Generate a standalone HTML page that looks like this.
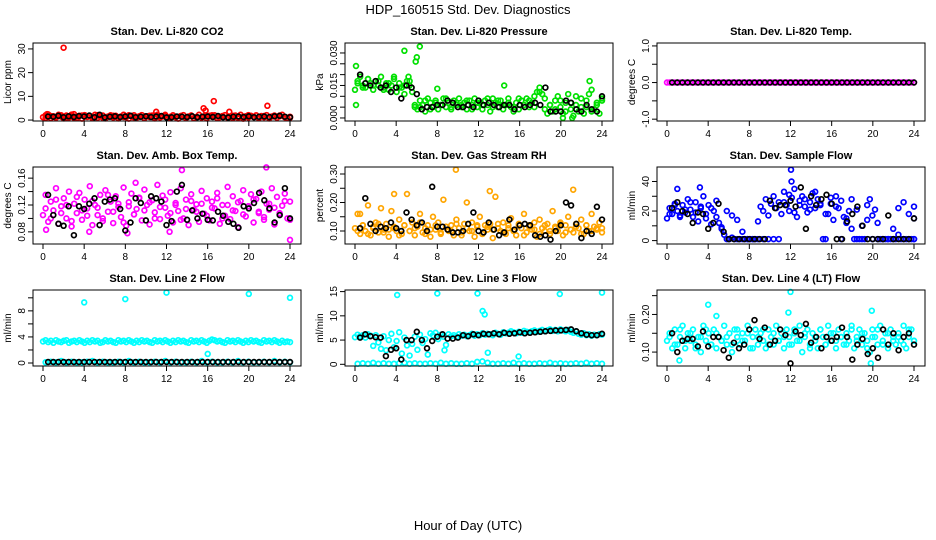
<!DOCTYPE html>
<html><head><meta charset="utf-8">
<style>
html,body{margin:0;padding:0;background:#fff;}
svg{display:block;font-family:"Liberation Sans",sans-serif;}
</style></head>
<body>
<svg id="chart" width="936" height="540" viewBox="0 0 936 540" xmlns="http://www.w3.org/2000/svg">
<text x="468" y="14" text-anchor="middle" font-size="13">HDP_160515  Std. Dev. Diagnostics</text>
<text x="468" y="530" text-anchor="middle" font-size="13">Hour of Day (UTC)</text>
</svg>
<script>
// ---------- data ----------
const xTicks = [0,4,8,12,16,20,24];
const titles = ["Stan. Dev. Li-820 CO2","Stan. Dev. Li-820 Pressure","Stan. Dev. Li-820 Temp.","Stan. Dev. Amb. Box Temp.","Stan. Dev. Gas Stream RH","Stan. Dev. Sample Flow","Stan. Dev. Line 2 Flow","Stan. Dev. Line 3 Flow","Stan. Dev. Line 4 (LT) Flow"];
const yUnits = ["Licor ppm","kPa","degrees C","degrees C","percent","ml/min","ml/min","ml/min","ml/min"];
const yTicks = [[0,10,20,30],[0,0.005,0.01,0.015,0.02,0.025,0.03],[-1,-0.5,0,0.5,1],[0.08,0.1,0.12,0.14,0.16],[0.1,0.15,0.2,0.25,0.3],[0,10,20,30,40],[0,2,4,6,8,10],[0,5,10,15],[0.1,0.15,0.2,0.25]];
const yTickLabels = [["0","10","20","30"],["0.000","","","0.015","","","0.030"],["-1.0","","0.0","","1.0"],["0.08","","0.12","","0.16"],["0.10","","0.20","","0.30"],["0","","20","","40"],["0","","4","","8",""],["0","5","10","15"],["0.10","","0.20",""]];

const co2 = [1.2,2.0,2.4,0.8,1.6,1.0,2.2,1.4,0.7,1.9,1.1,2.3,0.9,1.5,1.8,0.6,2.1,1.3,1.7,0.8,2.2,1.0,1.6,1.9,0.7,1.4,2.0,1.1,1.8,0.9,1.5,2.2,1.2,0.6,1.7,2.0,1.0,1.4,2.1,0.8,1.6,1.3,1.9,0.7,2.2,1.1,1.5,1.8,0.9,1.4,2.0,1.2,0.6,1.7,2.1,1.0,1.5,1.9,0.8,1.3,2.2,1.1,1.6,0.7,1.8,1.4,2.0,0.9,1.2,1.7,2.1,1.0,1.5,0.8,1.9,1.3,2.2,0.6,1.6,1.1,1.8,1.4,2.0,0.9,1.7,1.2,2.1,0.7,1.5,1.9,1.0,1.6,2.2,1.3,0.8,1.4];
const co2B = [0.9,1.7,1.3,2.0,1.1,1.6,0.8,1.9,1.4,1.2,2.1,1.0,1.5,1.8,0.7,1.3,2.0,1.1,1.6,0.9,1.8,1.2,1.5,2.2,1.0,1.4,1.7,0.8,1.9,1.3,1.1,1.6,2.0,0.9,1.5,1.2,1.8,1.0,1.4,2.1,1.3,0.8,1.7,1.1,1.6,1.9,1.2,1.0];
const co2Black = [1.5,1.4,1.8,1.2,1.6,1.3,1.7,1.5,1.9,1.2,2.2,1.1,1.4,1.6,1.3,1.5,1.8,1.2,1.4,1.6,1.3,1.5,1.7,1.1,1.2,1.5,1.4,1.3,1.6,1.2,1.4,1.5,1.3,1.7,1.2,1.1,1.4,1.5,1.3,1.6,1.2,1.4,1.5,1.3,1.6,1.8,1.4,1.2];
const co2OutX = [2.0,11,15.6,15.8,16.6,18.1,21.8,0.4,3];
const co2OutY = [30.5,3.5,5,4,8,3.5,6,2.5,2.5];

const pres = [0.013,0.017,0.019,0.015,0.014,0.018,0.016,0.013,0.017,0.015,0.019,0.014,0.016,0.013,0.015,0.018,0.012,0.016,0.014,0.011,0.017,0.015,0.012,0.005,0.004,0.008,0.006,0.003,0.009,0.007,0.005,0.008,0.004,0.006,0.009,0.005,0.007,0.004,0.008,0.006,0.009,0.005,0.007,0.004,0.008,0.006,0.009,0.005,0.007,0.004,0.008,0.006,0.003,0.009,0.007,0.005,0.008,0.004,0.006,0.009,0.005,0.003,0.007,0.004,0.008,0.006,0.009,0.005,0.007,0.010,0.012,0.014,0.011,0.004,0.002,0.006,0.003,0.008,0.010,0.005,0.002,0.007,0.011,0.004,0.001,0.006,0.003,0.009,0.002,0.005,0.011,0.013,0.004,0.007,0.002,0.009];
const presB = [0.016,0.014,0.018,0.015,0.017,0.013,0.016,0.019,0.014,0.015,0.017,0.006,0.005,0.008,0.004,0.007,0.006,0.009,0.005,0.007,0.006,0.008,0.004,0.007,0.006,0.009,0.005,0.008,0.006,0.007,0.005,0.009,0.006,0.008,0.005,0.012,0.009,0.006,0.004,0.008,0.003,0.007,0.010,0.005,0.008,0.003,0.006,0.008];
const presBlack = [0.020,0.016,0.015,0.017,0.014,0.015,0.012,0.014,0.009,0.015,0.014,0.011,0.004,0.005,0.005,0.006,0.006,0.008,0.007,0.005,0.005,0.006,0.005,0.008,0.006,0.007,0.006,0.005,0.006,0.006,0.004,0.006,0.005,0.006,0.007,0.006,0.014,0.003,0.003,0.003,0.008,0.007,0.004,0.003,0.006,0.004,0.003,0.010];
const presOutX = [0.1,0.1,4.8,6.3,5.9,5.2,8,14.5,20.2,22.8,21.1,6.0];
const presOutY = [0.024,0.006,0.031,0.033,0.026,0.019,0.0135,0.015,0.0,0.017,0.0,0.028];

const tempC = [0,0,0,0,0,0,0,0,0,0,0,0,0,0,0,0,0,0,0,0,0,0,0,0,0,0,0,0,0,0,0,0,0,0,0,0,0,0,0,0,0,0,0,0,0,0,0,0,0,0,0,0,0,0,0,0,0,0,0,0,0,0,0,0,0,0,0,0,0,0,0,0,0,0,0,0,0,0,0,0,0,0,0,0,0,0,0,0,0,0,0,0,0,0,0,0];
const tempBlack = [0,0,0,0,0,0,0,0,0,0,0,0,0,0,0,0,0,0,0,0,0,0,0,0,0,0,0,0,0,0,0,0,0,0,0,0,0,0,0,0,0,0,0,0,0,0,0,0];

const amb = [0.105,0.135,0.095,0.125,0.112,0.145,0.092,0.118,0.13,0.1,0.14,0.088,0.122,0.108,0.138,0.098,0.128,0.115,0.148,0.09,0.12,0.105,0.135,0.096,0.142,0.11,0.125,0.093,0.133,0.117,0.102,0.146,0.089,0.124,0.137,0.106,0.114,0.131,0.097,0.143,0.12,0.091,0.127,0.109,0.15,0.099,0.134,0.116,0.104,0.139,0.094,0.123,0.111,0.145,0.1,0.128,0.09,0.136,0.113,0.121,0.095,0.141,0.107,0.13,0.097,0.125,0.115,0.138,0.092,0.12,0.104,0.147,0.099,0.133,0.111,0.087,0.126,0.142,0.103,0.118,0.136,0.094,0.129,0.108,0.14,0.098,0.122,0.113,0.145,0.091,0.132,0.106,0.119,0.137,0.1,0.125];
const ambB = [0.115,0.1,0.128,0.108,0.12,0.096,0.132,0.112,0.104,0.126,0.116,0.1,0.135,0.11,0.122,0.094,0.118,0.106,0.13,0.112,0.124,0.1,0.117,0.128,0.108,0.12,0.098,0.114,0.126,0.11,0.122,0.104,0.116,0.13,0.1,0.12,0.112,0.124,0.106,0.118,0.128,0.11,0.102,0.122,0.116,0.108,0.126,0.098];
const ambBlack = [0.135,0.105,0.092,0.089,0.118,0.075,0.118,0.114,0.122,0.13,0.09,0.125,0.128,0.13,0.114,0.082,0.094,0.13,0.123,0.097,0.133,0.13,0.125,0.09,0.096,0.14,0.15,0.098,0.112,0.1,0.107,0.098,0.097,0.11,0.104,0.095,0.092,0.086,0.118,0.115,0.123,0.138,0.127,0.115,0.094,0.105,0.145,0.1];
const ambOutX = [0.3,13.5,21.7,24,9,4.5,12.3,8.2];
const ambOutY = [0.083,0.172,0.176,0.068,0.153,0.08,0.08,0.078];

const rh = [0.11,0.16,0.09,0.12,0.1,0.19,0.085,0.115,0.13,0.095,0.18,0.105,0.125,0.08,0.17,0.11,0.1,0.14,0.09,0.12,0.23,0.1,0.13,0.085,0.115,0.16,0.095,0.11,0.12,0.08,0.15,0.105,0.13,0.09,0.21,0.115,0.1,0.12,0.085,0.14,0.11,0.095,0.125,0.2,0.1,0.13,0.08,0.115,0.15,0.09,0.12,0.105,0.125,0.075,0.22,0.11,0.1,0.13,0.09,0.12,0.145,0.1,0.085,0.125,0.11,0.16,0.095,0.12,0.105,0.13,0.08,0.14,0.11,0.1,0.125,0.09,0.17,0.115,0.1,0.13,0.085,0.12,0.15,0.105,0.095,0.125,0.11,0.14,0.09,0.12,0.1,0.16,0.115,0.105,0.13,0.11];
const rhB = [0.1,0.12,0.09,0.11,0.125,0.095,0.105,0.115,0.085,0.12,0.1,0.11,0.13,0.09,0.105,0.12,0.095,0.115,0.1,0.125,0.085,0.11,0.1,0.12,0.09,0.115,0.105,0.125,0.095,0.11,0.1,0.12,0.085,0.115,0.105,0.09,0.12,0.1,0.11,0.125,0.095,0.105,0.115,0.09,0.12,0.1,0.11,0.095];
const rhBlack = [0.11,0.215,0.125,0.1,0.115,0.11,0.13,0.11,0.1,0.165,0.14,0.12,0.13,0.1,0.255,0.115,0.115,0.105,0.095,0.095,0.1,0.125,0.165,0.1,0.095,0.13,0.105,0.085,0.095,0.14,0.105,0.12,0.125,0.12,0.085,0.08,0.085,0.07,0.1,0.12,0.2,0.19,0.125,0.075,0.1,0.09,0.185,0.14];
const rhOutX = [9.8,13.1,21.2,3.8,0.5];
const rhOutY = [0.315,0.24,0.245,0.23,0.16];

const flow = [15,22,18,25,20,17,24,19,28,21,16,26,13,22,30,18,24,11,20,16,12,8,4,1,1,2,1,1,1,1,1,1,1,1,1,13,23,20,28,17,25,30,22,26,18,33,24,20,29,35,16,27,30,23,19,26,32,22,28,24,1,1,18,25,14,30,22,27,16,12,20,8,1,1,1,1,1,24,28,17,21,12,1,1,1,1,1,8,1,4,1,1,1,1,1,1];
const flowB = [18,24,16,21,26,19,23,15,22,27,9,20,17,14,6,1,1,1,1,1,1,1,26,31,19,24,28,21,33,25,18,29,23,1,15,28,21,10,14,1,1,1,1,1,22,26,18,1];
const flowBlack = [22,26,20,18,12,19,18,8,12,25,6,1,1,1,1,1,1,1,1,27,22,24,24,27,23,36,8,30,24,28,31,25,1,1,13,18,23,10,1,1,1,1,17,1,1,1,1,15];
const flowOutX = [12.05,12.1,1,3.2,24,24];
const flowOutY = [48,40,35,36,23,15];

const l2 = [3.3,3.5,3.2,3.4,3.1,3.5,3.3,3.2,3.4,3.5,3.1,3.3,3.4,3.2,3.5,3.3,3.1,3.4,3.2,3.5,3.3,3.4,3.1,3.2,3.5,3.3,3.4,3.2,3.1,3.5,3.3,3.4,3.2,3.5,3.3,3.1,3.4,3.2,3.5,3.3,3.4,3.2,3.1,3.5,3.3,3.4,3.2,3.5,3.3,3.1,3.4,3.2,3.5,3.3,3.4,3.2,3.1,3.5,3.3,3.4,3.2,3.5,3.3,3.1,3.4,3.6,3.5,3.3,3.4,3.2,3.1,3.5,3.3,3.4,3.2,3.5,3.3,3.1,3.4,3.2,3.5,3.3,3.4,3.2,3.1,3.5,3.3,3.4,3.2,3.5,3.3,3.1,3.4,3.2,3.3,3.2];
const l2Low = [0.1,0.2,0.1,0.3,0.1,0.2,0.1,0.1,0.2,0.3,0.1,0.2,0.1,0.1,0.2,0.1,0.3,0.1,0.2,0.1,0.1,0.2,0.1,0.3,0.1,0.2,0.1,0.1,0.2,0.1,0.3,0.1,0.2,0.1,0.1,0.2,0.1,0.3,0.1,0.2,0.1,0.1,0.2,0.1,0.3,0.1,0.2,0.1];
const l2Black = [0.15,0.15,0.15,0.15,0.15,0.15,0.15,0.15,0.15,0.15,0.15,0.15,0.15,0.15,0.15,0.15,0.15,0.15,0.15,0.15,0.15,0.15,0.15,0.15,0.15,0.15,0.15,0.15,0.15,0.15,0.15,0.15,0.15,0.15,0.15,0.15,0.15,0.15,0.15,0.15,0.15,0.15,0.15,0.15,0.15,0.15,0.15,0.15];
const l2OutX = [4,8,12,20,24,16];
const l2OutY = [9.3,9.8,10.8,10.6,10,1.4];

const l3 = [5.6,6.1,5.8,6.0,5.5,6.2,5.9,3.8,6.0,4.5,3.2,5.8,2.9,5.0,6.3,3.5,4.8,6.6,2.2,5.5,3.9,1.8,4.2,5.7,3.0,6.1,4.4,5.2,2.0,6.4,6.0,6.5,5.2,6.1,5.7,4.0,6.2,5.8,6.0,5.7,6.2,5.9,6.1,5.8,6.0,6.3,5.9,6.2,6.0,6.4,6.1,6.3,6.2,6.0,6.5,6.3,6.1,6.6,6.4,6.5,6.8,6.6,6.4,6.7,6.5,6.9,6.7,6.6,6.8,7.0,6.7,6.9,7.1,6.8,7.0,7.2,6.9,7.1,6.8,7.2,7.0,6.8,7.1,6.7,6.5,6.8,6.3,6.1,6.4,6.0,6.2,5.9,6.1,6.0,6.2,6.1];
const l3Low = [0.1,0.2,0.1,0.3,0.1,0.2,0.1,0.1,0.2,0.3,0.1,0.2,0.1,0.1,0.2,0.1,0.3,0.1,0.2,0.1,0.1,0.2,0.1,0.5,0.6,0.3,0.1,0.1,0.2,0.1,0.3,0.1,0.2,0.1,0.1,0.2,0.1,0.3,0.1,0.2,0.1,0.1,0.2,0.1,0.3,0.1,0.2,0.1];
const l3Black = [5.5,6.2,5.8,5.6,5.5,1.7,3.0,3.3,1.0,5.0,5.0,6.7,5.0,3.3,4.8,5.7,6.2,5.3,5.3,5.5,6.0,5.8,6.2,6.0,6.3,6.2,6.4,6.2,6.5,6.3,6.4,6.6,6.4,6.5,6.6,6.7,6.8,6.9,7.0,7.0,7.1,7.2,6.8,6.4,6.1,6.0,6.0,6.3];
const l3OutX = [4.1,8,11.9,19.9,24,12.4,12.6,12.9,15.9,8.7];
const l3OutY = [14.3,14.6,14.6,14.5,14.8,11,10.3,2.4,1.6,2.9];

const l4 = [0.13,0.15,0.11,0.16,0.12,0.14,0.17,0.11,0.15,0.13,0.16,0.12,0.14,0.1,0.17,0.13,0.15,0.12,0.16,0.11,0.14,0.13,0.17,0.12,0.15,0.1,0.16,0.14,0.12,0.15,0.13,0.17,0.11,0.14,0.16,0.12,0.15,0.13,0.11,0.16,0.14,0.12,0.17,0.13,0.15,0.11,0.16,0.14,0.12,0.15,0.13,0.17,0.1,0.14,0.16,0.12,0.15,0.13,0.11,0.16,0.14,0.12,0.17,0.13,0.15,0.11,0.16,0.14,0.12,0.15,0.13,0.17,0.11,0.14,0.16,0.12,0.15,0.13,0.1,0.16,0.14,0.12,0.17,0.13,0.15,0.11,0.16,0.14,0.12,0.15,0.13,0.17,0.11,0.14,0.16,0.13];
const l4B = [0.14,0.12,0.16,0.13,0.15,0.11,0.14,0.16,0.12,0.15,0.13,0.14,0.12,0.16,0.13,0.15,0.11,0.14,0.16,0.12,0.15,0.13,0.14,0.12,0.16,0.13,0.15,0.11,0.14,0.16,0.12,0.15,0.13,0.14,0.12,0.16,0.13,0.15,0.11,0.14,0.16,0.12,0.15,0.13,0.14,0.12,0.16,0.13];
const l4Black = [0.15,0.1,0.13,0.135,0.135,0.115,0.155,0.115,0.14,0.14,0.105,0.085,0.125,0.11,0.12,0.16,0.185,0.135,0.165,0.12,0.13,0.16,0.145,0.07,0.155,0.145,0.175,0.125,0.14,0.11,0.14,0.13,0.14,0.165,0.14,0.08,0.12,0.135,0.095,0.11,0.085,0.16,0.12,0.15,0.105,0.14,0.15,0.12];
const l4OutX = [1.2,4.0,12.0,19.9,4.8,19.8,11.8];
const l4OutY = [0.078,0.226,0.26,0.21,0.196,0.07,0.205];

// ---------- drawing ----------
const NS = "http://www.w3.org/2000/svg";
const svg = document.getElementById("chart");
const colX = [33,345,657], colW = 268;
const rowY = [43,167,290], rowH = [78,77,76];
const yLims = [[-0.4,32.5],[-0.0014,0.0346],[-1.05,1.08],[0.0619,0.1766],[0.0544,0.3246],[-2.3,49.8],[-0.46,11.2],[-0.35,15.33],[0.063,0.265]];
const colors = ["#ff0000","#00e000","#ff00ff","#ff00ff","#ffa500","#0000ff","#00ffff","#00ffff","#00ffff"];
const mainSeries = [co2,pres,tempC,amb,rh,flow,l2,l3,l4];
const extraSeries = [co2B,presB,null,ambB,rhB,flowB,l2Low,l3Low,l4B];
const blackSeries = [co2Black,presBlack,tempBlack,ambBlack,rhBlack,flowBlack,l2Black,l3Black,l4Black];
const outX = [co2OutX,presOutX,[],ambOutX,rhOutX,flowOutX,l2OutX,l3OutX,l4OutX];
const outY = [co2OutY,presOutY,[],ambOutY,rhOutY,flowOutY,l2OutY,l3OutY,l4OutY];

function mk(tag, attrs, parent){
  const e = document.createElementNS(NS, tag);
  for (const k in attrs) e.setAttribute(k, attrs[k]);
  parent.appendChild(e);
  return e;
}

for (let p = 0; p < 9; p++){
  const c = p % 3, r = Math.floor(p / 3);
  const L = colX[c], T = rowY[r], H = rowH[r], B = T + H, R = L + colW;
  const x0 = L + 10, x1 = R - 11;
  const xs = v => x0 + (v / 24) * (x1 - x0);
  const [ymin, ymax] = yLims[p];
  const ys = v => B - (v - ymin) / (ymax - ymin) * H;
  const g = mk("g", {}, svg);
  
  

  const t = mk("text", {x: (L + R) / 2, y: T - 8, "text-anchor": "middle", "font-size": "11", "font-weight": "bold"}, g);
  t.textContent = titles[p];
  
  

  const yl = mk("text", {x: 0, y: 0, "text-anchor": "middle", "font-size": "10", transform: `translate(${L - 22},${(T + B) / 2}) rotate(-90)`}, g);
  yl.textContent = yUnits[p];
  
  

  const pts = mk("g", {fill: "none", "stroke-width": "1.7"}, g);
  
  
  const drawSeries = (arr, xstart, col, name) => {
    const n = arr.length;
    arr.forEach((v, i) => {
      const xv = xstart + (24 - xstart) * (n > 1 ? i / (n - 1) : 0);
      const ci = mk("circle", {cx: xs(xv).toFixed(1), cy: ys(v).toFixed(1), r: 2.4, stroke: col}, pts);
      
      
    });
  };
  drawSeries(mainSeries[p], 0, colors[p], 'point');
  if (extraSeries[p]) drawSeries(extraSeries[p], 0.25, colors[p], 'point');
  outX[p].forEach((xv, i) => {
    const ci = mk("circle", {cx: xs(xv).toFixed(1), cy: ys(outY[p][i]).toFixed(1), r: 2.4, stroke: colors[p]}, pts);
    
    
  });
  drawSeries(blackSeries[p], 0.5, "#000", 'black-point');

  const fr = mk("rect", {x: L, y: T, width: colW, height: H, fill: "none", stroke: "#000", "stroke-width": "1"}, g);
  
  

  const xa = mk("g", {}, g);
  
  
  mk("line", {x1: xs(0), x2: xs(24), y1: B, y2: B, stroke: "#000"}, xa);
  xTicks.forEach(v => {
    mk("line", {x1: xs(v), x2: xs(v), y1: B, y2: B + 5, stroke: "#000"}, xa);
    const tl = mk("text", {x: xs(v), y: B + 16, "text-anchor": "middle", "font-size": "10"}, xa);
    tl.textContent = v;
    
    
  });
  const ya = mk("g", {}, g);
  
  
  const tk = yTicks[p];
  mk("line", {x1: L, x2: L, y1: ys(tk[0]), y2: ys(tk[tk.length - 1]), stroke: "#000"}, ya);
  tk.forEach((v, i) => {
    mk("line", {x1: L - 5, x2: L, y1: ys(v), y2: ys(v), stroke: "#000"}, ya);
    const lab = yTickLabels[p][i];
    if (lab) {
      const tl = mk("text", {x: 0, y: 0, "text-anchor": "middle", "font-size": "10", transform: `translate(${L - 8},${ys(v)}) rotate(-90)`}, ya);
      tl.textContent = lab;
      
      
    }
  });
}
</script>
</body></html>
